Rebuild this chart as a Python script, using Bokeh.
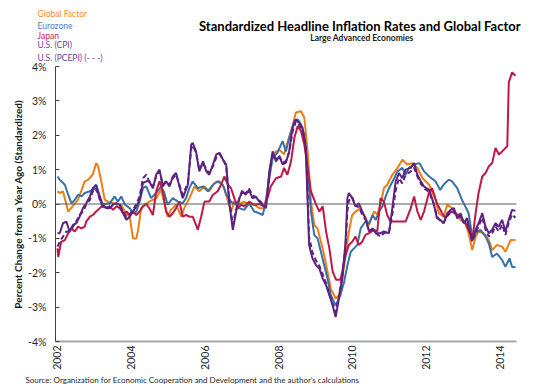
import math
from bokeh.plotting import figure
from bokeh.models import Span, FixedTicker, PrintfTickFormatter, Range1d, Title
from bokeh.embed import file_html
from bokeh.resources import INLINE

# ---------------- data (decimal year, standardized % change) ----------------
gf_t = [2002.00, 2002.06, 2002.15, 2002.29, 2002.37, 2002.56, 2002.74, 2002.83, 2002.96, 2003.05,
        2003.10, 2003.19, 2003.28, 2003.37, 2003.51, 2003.64, 2003.73, 2003.83, 2003.96, 2004.05,
        2004.14, 2004.19, 2004.27, 2004.37, 2004.49, 2004.68, 2004.81, 2004.89, 2004.99, 2005.08,
        2005.22, 2005.36, 2005.44, 2005.58, 2005.72, 2005.85, 2005.99, 2006.12, 2006.26, 2006.40,
        2006.53, 2006.63, 2006.71, 2006.80, 2006.90, 2007.07, 2007.20, 2007.34, 2007.48, 2007.61,
        2007.70, 2007.79, 2007.88, 2008.02, 2008.15, 2008.24, 2008.38, 2008.47, 2008.61, 2008.70,
        2008.79, 2008.88, 2008.97, 2009.06, 2009.15, 2009.24, 2009.33, 2009.42, 2009.55, 2009.64,
        2009.73, 2009.82, 2009.91, 2010.00, 2010.09, 2010.23, 2010.36, 2010.46, 2010.59, 2010.68,
        2010.77, 2010.86, 2010.95, 2011.09, 2011.23, 2011.36, 2011.50, 2011.64, 2011.77, 2011.91,
        2012.09, 2012.26, 2012.35, 2012.48, 2012.58, 2012.71, 2012.85, 2012.94, 2013.07, 2013.16,
        2013.26, 2013.35, 2013.43, 2013.57, 2013.71, 2013.80, 2013.93, 2014.07, 2014.16, 2014.30,
        2014.43]
gf_v = [0.37, 0.32, 0.37, -0.22, -0.12, 0.13, 0.66, 0.70, 0.86, 1.19,
        1.10, 0.66, 0.13, 0.07, 0.02, -0.02, -0.02, -0.22, -0.37, -1.00,
        -1.00, -0.75, -0.12, -0.02, 0.07, 0.17, 0.42, 0.07, -0.37, -0.17,
        -0.02, -0.37, -0.12, 0.17, 0.51, 0.37, 0.51, 0.37, 0.61, 0.66,
        0.46, 0.07, -0.22, 0.07, -0.02, 0.07, -0.02, -0.02, -0.12, -0.12,
        0.37, 1.15, 1.49, 1.58, 1.45, 1.78, 2.27, 2.66, 2.70, 2.51,
        1.53, 0.07, -0.61, -0.71, -1.10, -1.49, -1.97, -2.46, -2.75, -2.65,
        -2.17, -1.49, -0.80, -0.32, -0.22, -0.12, -0.41, -0.61, -0.22, -0.30,
        -0.02, 0.46, 0.56, 0.85, 1.05, 1.29, 1.15, 1.19, 1.05, 0.75,
        0.56, 0.12, -0.27, -0.37, -0.02, -0.12, -0.32, -0.46, -0.56, -0.85,
        -1.34, -0.95, -0.80, -0.85, -1.05, -1.34, -1.19, -1.24, -1.39, -1.05,
        -1.05]

ez_t = [2002.00, 2002.06, 2002.20, 2002.29, 2002.38, 2002.47, 2002.56, 2002.65, 2002.74, 2002.88,
        2003.01, 2003.10, 2003.19, 2003.28, 2003.42, 2003.55, 2003.64, 2003.73, 2003.83, 2003.96,
        2004.05, 2004.14, 2004.23, 2004.32, 2004.41, 2004.54, 2004.68, 2004.81, 2004.90, 2004.99,
        2005.13, 2005.27, 2005.40, 2005.49, 2005.58, 2005.67, 2005.81, 2005.95, 2006.08, 2006.22,
        2006.35, 2006.49, 2006.58, 2006.71, 2006.85, 2006.93, 2007.07, 2007.20, 2007.34, 2007.48,
        2007.57, 2007.66, 2007.75, 2007.84, 2007.97, 2008.11, 2008.20, 2008.29, 2008.43, 2008.52,
        2008.61, 2008.70, 2008.79, 2008.88, 2008.97, 2009.06, 2009.15, 2009.24, 2009.33, 2009.42,
        2009.55, 2009.68, 2009.78, 2009.87, 2009.96, 2010.05, 2010.14, 2010.23, 2010.36, 2010.46,
        2010.55, 2010.64, 2010.73, 2010.82, 2010.91, 2011.00, 2011.14, 2011.23, 2011.36, 2011.45,
        2011.54, 2011.68, 2011.82, 2011.95, 2012.09, 2012.26, 2012.39, 2012.48, 2012.62, 2012.71,
        2012.85, 2012.98, 2013.07, 2013.16, 2013.26, 2013.35, 2013.48, 2013.62, 2013.71, 2013.80,
        2013.93, 2014.07, 2014.16, 2014.27, 2014.34, 2014.43]
ez_v = [0.80, 0.71, 0.56, 0.27, 0.02, 0.12, 0.27, 0.22, 0.32, 0.37,
        0.46, 0.32, 0.02, 0.00, 0.02, 0.22, 0.07, 0.22, -0.02, -0.12,
        -0.27, -0.22, 0.07, 0.46, 0.51, 0.17, 0.32, 0.51, 0.32, -0.02,
        0.17, 0.07, 0.02, 0.17, 0.46, 0.66, 0.46, 0.51, 0.37, 0.56,
        0.66, 0.56, 0.27, 0.07, -0.02, -0.12, -0.17, 0.02, -0.22, -0.27,
        -0.32, 0.07, 0.75, 1.34, 1.49, 1.83, 1.53, 1.92, 2.41, 2.46,
        2.32, 2.02, 1.05, -0.22, -0.90, -1.00, -1.39, -1.78, -2.17, -2.65,
        -2.95, -2.65, -2.27, -1.78, -1.39, -1.29, -1.19, -0.71, -0.51, -0.56,
        -0.32, -0.46, -0.22, -0.07, 0.22, 0.46, 0.75, 0.95, 1.05, 0.85,
        1.05, 1.15, 1.19, 0.95, 0.80, 0.66, 0.41, 0.56, 0.71, 0.66,
        0.46, 0.12, -0.07, -0.27, -0.95, -0.85, -0.75, -0.95, -1.15, -1.54,
        -1.44, -1.63, -1.83, -1.58, -1.83, -1.83]

jp_t = [2002.00, 2002.02, 2002.10, 2002.20, 2002.29, 2002.38, 2002.47, 2002.56, 2002.65, 2002.74,
        2002.78, 2002.88, 2002.96, 2003.05, 2003.15, 2003.24, 2003.33, 2003.42, 2003.51, 2003.60,
        2003.69, 2003.78, 2003.87, 2003.96, 2004.05, 2004.14, 2004.23, 2004.32, 2004.41, 2004.49,
        2004.59, 2004.68, 2004.77, 2004.86, 2004.95, 2005.04, 2005.13, 2005.22, 2005.31, 2005.40,
        2005.49, 2005.58, 2005.67, 2005.76, 2005.81, 2005.90, 2005.99, 2006.12, 2006.22, 2006.35,
        2006.44, 2006.53, 2006.63, 2006.71, 2006.80, 2006.90, 2006.99, 2007.07, 2007.20, 2007.34,
        2007.48, 2007.61, 2007.70, 2007.79, 2007.93, 2008.07, 2008.15, 2008.24, 2008.34, 2008.43,
        2008.52, 2008.61, 2008.70, 2008.79, 2008.88, 2009.02, 2009.11, 2009.20, 2009.29, 2009.38,
        2009.47, 2009.56, 2009.68, 2009.73, 2009.82, 2009.91, 2010.00, 2010.09, 2010.18, 2010.27,
        2010.36, 2010.46, 2010.59, 2010.68, 2010.77, 2010.86, 2010.95, 2011.04, 2011.18, 2011.32,
        2011.45, 2011.59, 2011.68, 2011.77, 2011.86, 2011.95, 2012.08, 2012.17, 2012.30, 2012.44,
        2012.53, 2012.67, 2012.80, 2012.94, 2013.07, 2013.21, 2013.26, 2013.35, 2013.43, 2013.53,
        2013.62, 2013.71, 2013.80, 2013.89, 2013.98, 2014.07, 2014.21, 2014.25, 2014.34, 2014.43]
jp_v = [-1.29, -1.54, -1.10, -1.05, -0.85, -0.71, -0.80, -0.66, -0.71, -0.66,
        -0.51, -0.37, -0.32, -0.22, -0.12, -0.02, -0.12, -0.07, -0.17, -0.07,
        -0.12, -0.27, -0.22, -0.32, -0.22, -0.32, -0.22, -0.07, 0.00, -0.12,
        -0.32, 0.37, 0.66, 0.37, -0.22, -0.37, -0.27, -0.12, 0.07, -0.37,
        -0.32, -0.37, -0.37, -0.61, -0.75, -0.37, 0.07, 0.07, 0.27, 0.37,
        0.56, 0.80, 0.56, 0.46, 0.17, -0.12, -0.02, -0.07, 0.07, -0.02,
        0.00, -0.07, 0.17, 0.51, 0.75, 0.80, 1.05, 0.85, 1.24, 1.92,
        2.27, 2.12, 1.73, 1.05, 0.37, -0.02, -0.22, -0.07, -0.80, -1.29,
        -1.97, -2.20, -2.20, -1.97, -1.49, -1.19, -1.10, -0.95, -1.19, -1.10,
        -0.90, -0.85, -0.75, -0.80, 0.17, 0.07, -0.32, -0.51, -0.51, -0.51,
        -0.51, -0.12, 0.22, -0.22, -0.46, -0.22, 0.32, 0.46, 0.02, -0.27,
        -0.41, -0.22, -0.27, -0.37, -0.56, -0.85, -1.05, -0.27, 0.32, 0.80,
        0.90, 1.10, 1.19, 1.63, 1.44, 1.53, 1.68, 3.53, 3.83, 3.73]

cpi_t = [2002.00, 2002.06, 2002.15, 2002.24, 2002.33, 2002.42, 2002.51, 2002.60, 2002.69, 2002.78,
         2002.88, 2002.96, 2003.05, 2003.15, 2003.24, 2003.33, 2003.42, 2003.51, 2003.60, 2003.69,
         2003.78, 2003.87, 2003.96, 2004.05, 2004.14, 2004.23, 2004.32, 2004.41, 2004.49, 2004.59,
         2004.68, 2004.77, 2004.86, 2004.95, 2005.04, 2005.13, 2005.22, 2005.31, 2005.40, 2005.54,
         2005.63, 2005.67, 2005.76, 2005.85, 2005.95, 2006.04, 2006.12, 2006.22, 2006.31, 2006.40,
         2006.49, 2006.58, 2006.63, 2006.67, 2006.76, 2006.85, 2006.94, 2007.02, 2007.11, 2007.20,
         2007.29, 2007.39, 2007.48, 2007.57, 2007.66, 2007.75, 2007.84, 2007.93, 2008.02, 2008.11,
         2008.20, 2008.29, 2008.38, 2008.47, 2008.56, 2008.65, 2008.74, 2008.79, 2008.83, 2008.92,
         2009.02, 2009.11, 2009.20, 2009.29, 2009.38, 2009.47, 2009.55, 2009.64, 2009.73, 2009.82,
         2009.87, 2009.91, 2010.00, 2010.09, 2010.18, 2010.27, 2010.36, 2010.46, 2010.55, 2010.64,
         2010.77, 2010.86, 2011.00, 2011.09, 2011.18, 2011.27, 2011.36, 2011.45, 2011.59, 2011.68,
         2011.77, 2011.86, 2011.95, 2012.09, 2012.21, 2012.30, 2012.39, 2012.48, 2012.58, 2012.67,
         2012.76, 2012.85, 2012.94, 2013.03, 2013.12, 2013.21, 2013.26, 2013.35, 2013.43, 2013.53,
         2013.62, 2013.71, 2013.80, 2013.89, 2013.98, 2014.07, 2014.16, 2014.25, 2014.34, 2014.43]
cpi_v = [-0.85, -0.85, -0.56, -0.51, -0.80, -0.61, -0.56, -0.37, -0.12, 0.02,
         0.22, 0.46, 0.56, 0.22, -0.07, -0.12, -0.12, -0.02, 0.02, -0.02,
         -0.27, -0.46, -0.37, -0.22, -0.07, 0.12, 0.61, 0.66, 0.66, 0.46,
         0.85, 1.00, 0.51, 0.66, 0.51, 0.80, 0.90, 0.51, 0.17, 0.56,
         1.73, 1.78, 1.53, 0.95, 1.24, 0.95, 0.85, 1.15, 1.44, 1.49,
         1.29, 1.15, 0.46, -0.02, -0.75, -0.22, 0.17, 0.37, 0.27, 0.41,
         0.17, 0.20, 0.07, -0.02, -0.12, 0.95, 1.53, 1.24, 1.39, 1.15,
         1.20, 1.53, 2.22, 2.46, 2.36, 2.22, 1.63, 0.07, -1.19, -1.58,
         -1.78, -1.88, -2.17, -2.36, -2.65, -2.95, -3.29, -2.75, -2.17, -1.10,
         0.17, 0.32, 0.17, -0.07, 0.02, -0.22, -0.41, -0.80, -0.71, -0.85,
         -0.85, -0.80, -0.85, -0.12, 0.66, 0.90, 0.75, 1.00, 1.05, 1.19,
         0.85, 0.66, 0.51, 0.41, 0.02, -0.41, -0.46, -0.56, -0.27, -0.17,
         -0.12, -0.41, -0.27, -0.56, -0.41, -0.85, -1.05, -0.75, -0.56, -0.27,
         -0.66, -0.85, -0.75, -0.56, -0.66, -0.46, -0.80, -0.46, -0.17, -0.20]

pce_t = cpi_t
pce_v = [-1.24, -1.10, -0.95, -0.80, -0.80, -0.66, -0.51, -0.32, -0.22, -0.02,
         0.12, 0.37, 0.46, 0.12, -0.12, -0.10, -0.07, 0.00, 0.02, -0.05,
         -0.22, -0.37, -0.30, -0.17, 0.00, 0.22, 0.75, 0.85, 0.66, 0.51,
         0.80, 0.95, 0.56, 0.66, 0.56, 0.75, 0.85, 0.56, 0.27, 0.61,
         1.60, 1.70, 1.50, 1.00, 1.20, 1.00, 0.90, 1.10, 1.35, 1.45,
         1.30, 1.10, 0.50, 0.05, -0.60, -0.15, 0.20, 0.40, 0.30, 0.45,
         0.25, 0.20, 0.10, 0.00, -0.05, 0.85, 1.45, 1.30, 1.40, 1.20,
         1.25, 1.50, 2.10, 2.40, 2.30, 2.15, 1.70, 0.30, -0.95, -1.40,
         -1.65, -1.80, -2.05, -2.30, -2.60, -2.90, -3.15, -2.70, -2.10, -1.20,
         -0.20, 0.10, 0.20, -0.05, -0.10, -0.30, -0.45, -0.80, -0.75, -0.85,
         -0.95, -0.85, -0.80, -0.30, 0.40, 0.75, 0.60, 0.85, 0.95, 1.05,
         0.80, 0.60, 0.45, 0.35, 0.00, -0.35, -0.50, -0.55, -0.35, -0.25,
         -0.20, -0.40, -0.35, -0.55, -0.50, -0.90, -1.10, -0.85, -0.65, -0.40,
         -0.75, -0.95, -0.85, -0.65, -0.80, -0.60, -0.90, -0.55, -0.30, -0.40]

x_ticks = [2002, 2004, 2006, 2008, 2010, 2012, 2014]
y_ticks = [-4, -3, -2, -1, 0, 1, 2, 3, 4]
series_names = ["Global Factor", "Eurozone", "Japan", "U.S. (CPI)", "U.S. (PCEPI) (- - -)"]

title_text = "Standardized Headline Inflation Rates and Global Factor"
subtitle_text = "Large Advanced Economies"
ylabel_text = "Percent Change from a Year Ago (Standardized)"
source_text = "Source: Organization for Economic Cooperation and Development and the author\u2019s calculations"

# ---------------- styling / layout ----------------
C_GF = "#EE7D12"
C_EZ = "#3572A8"
C_JP = "#BE1846"
C_US = "#5C2280"
LEG_COLORS = ["#F08A30", "#4A7EBB", "#C52050", "#70409A", "#70409A"]
FONT = "Lato"

W, H = 536, 390
FL, FR, FT, FB = 55, 516, 66, 341
X0, X1 = 2001.946, 2014.46
Y0, Y1 = -4.0, 4.0

p = figure(width=W, height=H, output_backend="svg", toolbar_location=None, title=None,
           x_range=Range1d(X0, X1), y_range=Range1d(Y0, Y1),
           min_border_left=FL, min_border_right=W - FR, min_border_top=FT,
           min_border_bottom=H - FB)
p.outline_line_color = None
p.xgrid.visible = False
p.ygrid.visible = False
p.background_fill_color = "white"
p.border_fill_color = "white"

# x axis
p.xaxis.ticker = FixedTicker(ticks=x_ticks)
p.xaxis.major_label_orientation = math.pi / 2
p.xaxis.axis_line_color = "#A6A6A6"
p.xaxis.axis_line_width = 2
p.xaxis.major_tick_in = 0
p.xaxis.major_tick_out = 0
p.xaxis.minor_tick_line_color = None
p.xaxis.major_label_standoff = 4
p.xaxis.major_label_text_font = FONT
p.xaxis.major_label_text_font_size = "10.5px"
p.xaxis.major_label_text_color = "#262626"

# y axis
p.yaxis.ticker = FixedTicker(ticks=y_ticks)
p.yaxis.formatter = PrintfTickFormatter(format="%d%%")
p.yaxis.axis_line_color = "#404040"
p.yaxis.axis_line_width = 1
p.yaxis.major_tick_in = 4
p.yaxis.major_tick_out = 0
p.yaxis.major_tick_line_color = "#404040"
p.yaxis.minor_tick_line_color = None
p.yaxis.major_label_standoff = 9
p.yaxis.major_label_text_font = FONT
p.yaxis.major_label_text_font_size = "10.5px"
p.yaxis.major_label_text_color = "#262626"
p.yaxis.axis_label = ylabel_text
p.yaxis.axis_label_standoff = 1
p.yaxis.axis_label_text_font = FONT
p.yaxis.axis_label_text_font_style = "bold"
p.yaxis.axis_label_text_font_size = "10px"
p.yaxis.axis_label_text_color = "#1a1a1a"

# zero line
p.add_layout(Span(location=0, dimension="width", line_color="#595959", line_width=1))

# series
p.line(gf_t, gf_v, line_color=C_GF, line_width=2)
p.line(ez_t, ez_v, line_color=C_EZ, line_width=2)
p.line(jp_t, jp_v, line_color=C_JP, line_width=2)
p.line(pce_t, pce_v, line_color=C_US, line_width=2, line_dash="5 3")
p.line(cpi_t, cpi_v, line_color=C_US, line_width=2)


# ---- texts outside the frame: stacked Title panels ----
def text_row(side, text, size, color, align="left", offset=0, bold=False):
    # zero-height panel: text is centred on the current panel boundary
    p.add_layout(Title(text=text, text_font=FONT, text_font_size=f"{size}px",
                       text_color=color, text_font_style="bold" if bold else "normal",
                       align=align, offset=offset, vertical_align="middle",
                       standoff=-int(round(2 + 1.2 * size))), side)


def spacer(side, gap):
    p.add_layout(Title(text=" ", text_font=FONT, text_font_size="1px",
                       standoff=int(round(gap - 3.2))), side)


LEG_OFF = 37 - FL
spacer("above", 9)
text_row("above", series_names[4], 8.5, LEG_COLORS[4], offset=LEG_OFF)
spacer("above", 13)
text_row("above", series_names[3], 8.5, LEG_COLORS[3], offset=LEG_OFF)
spacer("above", 7)
text_row("above", subtitle_text, 8.5, "#1a1a1a", align="right", offset=FR - 413, bold=True)
spacer("above", 2)
text_row("above", series_names[2], 8.5, LEG_COLORS[2], offset=LEG_OFF)
spacer("above", 10)
text_row("above", series_names[1], 8.5, LEG_COLORS[1], offset=LEG_OFF)
text_row("above", title_text, 13, "#000000", align="right", offset=FR - 520, bold=True)
spacer("above", 12)
text_row("above", series_names[0], 8.5, LEG_COLORS[0], offset=LEG_OFF)

spacer("below", 7)
text_row("below", source_text, 8, "#262626", offset=25 - FL)

open("out.html", "w").write(file_html(p, INLINE))
